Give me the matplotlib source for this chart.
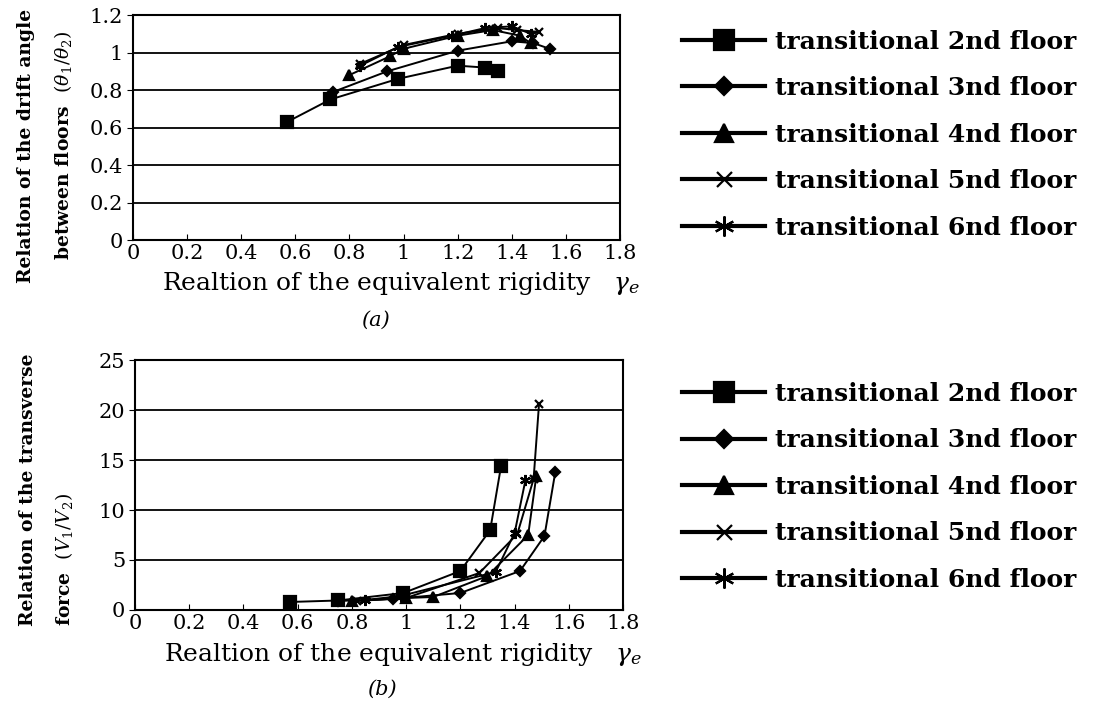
import matplotlib
matplotlib.use("Agg")
import matplotlib.pyplot as plt
from matplotlib.ticker import FuncFormatter, MultipleLocator

plt.rcParams['font.family'] = ['DejaVu Serif']
plt.rcParams['mathtext.fontset'] = 'dejavuserif'

labels = ["transitional 2nd floor", "transitional 3nd floor", "transitional 4nd floor",
          "transitional 5nd floor", "transitional 6nd floor"]

# (a) drift angle ratio theta1/theta2 vs equivalent rigidity ratio
a2_x = [0.57, 0.73, 0.98, 1.20, 1.30, 1.35]
a2_y = [0.63, 0.75, 0.86, 0.93, 0.92, 0.90]
a3_x = [0.74, 0.94, 1.20, 1.40, 1.48, 1.54]
a3_y = [0.79, 0.90, 1.01, 1.06, 1.05, 1.02]
a4_x = [0.80, 0.95, 1.00, 1.20, 1.33, 1.43, 1.47]
a4_y = [0.88, 0.98, 1.02, 1.09, 1.12, 1.09, 1.05]
a5_x = [0.84, 1.00, 1.20, 1.35, 1.42, 1.50]
a5_y = [0.94, 1.04, 1.10, 1.13, 1.12, 1.11]
a6_x = [0.84, 0.98, 1.18, 1.30, 1.40, 1.47]
a6_y = [0.93, 1.03, 1.09, 1.13, 1.14, 1.10]

# (b) transverse force ratio V1/V2 vs equivalent rigidity ratio
b2_x = [0.57, 0.75, 0.99, 1.20, 1.31, 1.35]
b2_y = [0.8, 0.95, 1.7, 3.9, 8.0, 14.4]
b3_x = [0.75, 0.95, 1.20, 1.42, 1.51, 1.55]
b3_y = [0.9, 1.1, 1.7, 3.9, 7.4, 13.8]
b4_x = [0.80, 1.00, 1.10, 1.30, 1.45, 1.48]
b4_y = [0.9, 1.2, 1.3, 3.4, 7.5, 13.4]
b5_x = [0.82, 1.00, 1.27, 1.41, 1.47, 1.49]
b5_y = [0.9, 1.2, 3.7, 7.6, 13.1, 20.6]
b6_x = [0.85, 0.98, 1.33, 1.40, 1.44]
b6_y = [1.0, 1.4, 3.8, 7.7, 13.0]

markers = ['s', 'D', '^', 'x', (6, 2, 0)]
msizes = [8, 5, 7, 6, 8]

fig = plt.figure(figsize=(10.97, 7.06), dpi=100)
ax_a = fig.add_axes([0.1212, 0.66, 0.444, 0.3187])
ax_b = fig.add_axes([0.123, 0.136, 0.445, 0.354])


def draw(ax, xs, ys):
    for x, y, m, ms, lab in zip(xs, ys, markers, msizes, labels):
        ax.plot(x, y, color="black", lw=1.4, marker=m, ms=ms, mew=1.6,
                mfc="black", mec="black", label=lab)


draw(ax_a, [a2_x, a3_x, a4_x, a5_x, a6_x], [a2_y, a3_y, a4_y, a5_y, a6_y])
draw(ax_b, [b2_x, b3_x, b4_x, b5_x, b6_x], [b2_y, b3_y, b4_y, b5_y, b6_y])

fmt = FuncFormatter(lambda v, p: f"{v:g}")
for ax, ymax, ystep in [(ax_a, 1.2, 0.2), (ax_b, 25, 5)]:
    ax.set_xlim(0, 1.8)
    ax.set_ylim(0, ymax)
    ax.xaxis.set_major_locator(MultipleLocator(0.2))
    ax.yaxis.set_major_locator(MultipleLocator(ystep))
    ax.xaxis.set_major_formatter(fmt)
    ax.yaxis.set_major_formatter(fmt)
    ax.grid(axis="y", color="black", lw=1.3)
    ax.set_axisbelow(True)
    for s in ax.spines.values():
        s.set_linewidth(1.5)
    ax.tick_params(axis="x", direction="in", length=4, labelsize=15, pad=3)
    ax.tick_params(axis="y", direction="out", length=4, labelsize=15, pad=3)
    ax.set_xlabel(r"Realtion of the equivalent rigidity   $\gamma_e$", fontsize=18)
ax_a.xaxis.set_label_coords(0.55, -0.135)
ax_b.xaxis.set_label_coords(0.55, -0.125)

ax_a.set_ylabel("Relation of the drift angle\nbetween floors  " + r"$(\theta_1/\theta_2)$",
                fontsize=13.5, fontweight="bold", linespacing=1.95)
ax_a.yaxis.set_label_coords(-0.122, 0.42)
ax_b.set_ylabel("Relation of the transverse\nforce  " + r"$(V_1/V_2)$",
                fontsize=13.5, fontweight="bold", linespacing=1.95, multialignment="left")
ax_b.yaxis.set_label_coords(-0.122, 0.48)

fig.text(0.342, 0.547, "(a)", fontsize=15, style="italic", ha="center", va="center")
fig.text(0.348, 0.023, "(b)", fontsize=15, style="italic", ha="center", va="center")

for ax, top in [(ax_a, 0.958), (ax_b, 0.459)]:
    leg = ax.legend(loc="upper left", bbox_to_anchor=(0.622, top),
                    bbox_transform=fig.transFigure, frameon=False,
                    prop={"size": 18, "weight": "bold"},
                    handlelength=3.3, handletextpad=0.4, labelspacing=0.9,
                    markerscale=1.8, borderpad=0, borderaxespad=0)
    for h in leg.get_lines():
        h.set_linewidth(3)

plt.savefig("out.png", dpi=100)
